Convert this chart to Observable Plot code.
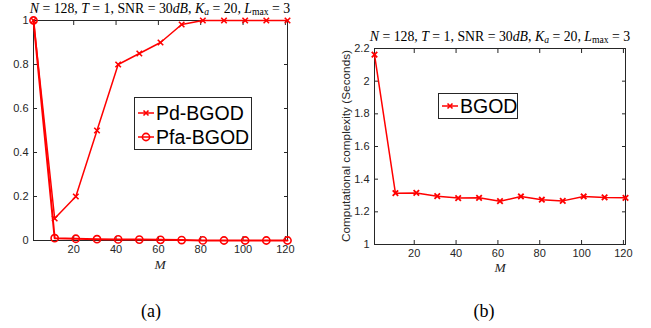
<!DOCTYPE html>
<html>
<head>
<meta charset="utf-8">
<script src="https://cdn.jsdelivr.net/npm/d3@7"></script>
<script src="https://cdn.jsdelivr.net/npm/@observablehq/plot@0.6"></script>
<style>
  html, body { margin: 0; padding: 0; background: #fff; }
  #wrap { position: relative; width: 651px; height: 328px; overflow: hidden; background: #fff; }
  .panel { position: absolute; top: 0; }
  .ttl { position: absolute; white-space: nowrap; transform: translateX(-50%); font-family: "Liberation Serif", "DejaVu Serif", serif; font-size: 13.8px; color: #000; line-height: 1; }
  .ttl sub { font-size: 70%; vertical-align: -0.25em; }
  .xl { position: absolute; transform: translateX(-50%); font-family: "Liberation Serif", serif; font-style: italic; font-size: 13.5px; color: #262626; line-height: 1; }
  .cap { position: absolute; transform: translateX(-50%); font-family: "Liberation Serif", serif; font-size: 18px; color: #000; line-height: 1; }
  .yl { position: absolute; white-space: nowrap; font-family: "Liberation Sans", Arial, sans-serif; font-size: 11.8px; color: #262626; transform: translate(-50%, -50%) rotate(-90deg); line-height: 1; }
  .leg { position: absolute; background: #fff; border: 1px solid #262626; box-sizing: border-box; font-family: "Liberation Sans", Arial, sans-serif; font-size: 19.5px; color: #000; }
  .leg .row { position: absolute; left: 0; display: flex; align-items: center; height: 22px; }
  .leg svg { display: block; }
</style>
</head>
<body>
<div id="wrap"></div>
<script>
// ---- data ----
const M = [1, 11, 21, 31, 41, 51, 61, 71, 81, 91, 101, 111, 121];
const pd = [1, 0.1, 0.2, 0.5, 0.8, 0.85, 0.9, 0.982, 1, 1, 1, 1, 1];
const pfa = [1, 0.0105, 0.008, 0.006, 0.005, 0.004, 0.003, 0.002, 0.0005, 0, 0, 0, 0];
const runtime = [2.162, 1.314, 1.316, 1.296, 1.284, 1.286, 1.265, 1.294, 1.274, 1.267, 1.294, 1.288, 1.286];
const xTicks = [20, 40, 60, 80, 100, 120];
const yTicksA = [0, 0.2, 0.4, 0.6, 0.8, 1];
const yTicksB = [1, 1.2, 1.4, 1.6, 1.8, 2, 2.2];
const seriesNames = ["Pd-BGOD", "Pfa-BGOD"];
const seriesB = "BGOD";

const RED = "#ff0000";
const INK = "#262626";
const fmt = d => String(+d.toFixed(1));

const rowsPd = M.map((m, i) => ({M: m, v: pd[i]}));
const rowsPfa = M.map((m, i) => ({M: m, v: pfa[i]}));
const rowsT = M.map((m, i) => ({M: m, v: runtime[i]}));

function boxAxes(yt) {
  return [
    Plot.axisX({anchor: "bottom", ticks: xTicks, tickSize: -4, tickPadding: 9, label: null, stroke: INK, color: INK}),
    Plot.axisX({anchor: "top", ticks: xTicks, tickSize: -4, tickFormat: () => "", label: null, stroke: INK}),
    Plot.axisY({anchor: "left", ticks: yt, tickSize: -4, tickPadding: 9, tickFormat: fmt, label: null, stroke: INK, color: INK}),
    Plot.axisY({anchor: "right", ticks: yt, tickSize: -4, tickFormat: () => "", label: null, stroke: INK}),
    Plot.frame({stroke: INK, strokeWidth: 1})
  ];
}

const style = {fontFamily: "'Liberation Sans', Arial, sans-serif", fontSize: "11px", color: INK, background: "transparent", overflow: "visible"};

const left = Plot.plot({
  width: 320, height: 280,
  marginLeft: 33, marginRight: 33, marginTop: 20, marginBottom: 40,
  style,
  x: {domain: [1, 121]},
  y: {domain: [0, 1]},
  marks: [
    ...boxAxes(yTicksA),
    Plot.line(rowsPfa, {x: "M", y: "v", stroke: RED, strokeWidth: 2}),
    Plot.line(rowsPd, {x: "M", y: "v", stroke: RED, strokeWidth: 1.5}),
    Plot.dot(rowsPfa, {x: "M", y: "v", r: 3.6, stroke: RED, strokeWidth: 1.6, fill: "none"}),
    Plot.dot(rowsPd, {x: "M", y: "v", symbol: "times", r: 2.6, stroke: RED, strokeWidth: 1.6})
  ]
});

const right = Plot.plot({
  width: 331, height: 280,
  marginLeft: 54, marginRight: 26, marginTop: 48, marginBottom: 36,
  style,
  x: {domain: [1, 121]},
  y: {domain: [1, 2.2]},
  marks: [
    ...boxAxes(yTicksB),
    Plot.line(rowsT, {x: "M", y: "v", stroke: RED, strokeWidth: 1.5}),
    Plot.dot(rowsT, {x: "M", y: "v", symbol: "times", r: 2.6, stroke: RED, strokeWidth: 1.8})
  ]
});

const wrap = document.getElementById("wrap");
const pl = document.createElement("div"); pl.className = "panel"; pl.style.left = "0px"; pl.appendChild(left); wrap.appendChild(pl);
const pr = document.createElement("div"); pr.className = "panel"; pr.style.left = "320px"; pr.appendChild(right); wrap.appendChild(pr);

function add(cls, html, x, y) {
  const d = document.createElement("div"); d.className = cls; d.innerHTML = html;
  d.style.left = x + "px"; d.style.top = y + "px"; wrap.appendChild(d); return d;
}
const titleHTML = '<i>N</i> = 128, <i>T</i> = 1, SNR = 30<i>dB</i>, <i>K<sub>a</sub></i> = 20, <i>L</i><sub>max</sub> = 3';
add("ttl", titleHTML, 160, 2);
add("ttl", titleHTML, 500, 30);
add("xl", "M", 160, 258);
add("xl", "M", 500, 261);
add("cap", "(a)", 151, 302);
add("cap", "(b)", 484, 302);
add("yl", "Computational complexity (Seconds)", 347, 146);

function legend(x, y, w, h, rows) {
  const L = document.createElement("div"); L.className = "leg";
  Object.assign(L.style, {left: x + "px", top: y + "px", width: w + "px", height: h + "px"});
  rows.forEach(([name, marker, top]) => {
    const r = document.createElement("div"); r.className = "row"; r.style.top = top + "px";
    const mk = marker === "circle"
      ? '<circle cx="9" cy="11" r="3.6" fill="none" stroke="' + RED + '" stroke-width="1.6"/>'
      : '<path d="M6.5,8.5L11.5,13.5M6.5,13.5L11.5,8.5" stroke="' + RED + '" stroke-width="1.6"/>';
    r.innerHTML = '<svg width="19" height="22" style="margin-left:2px"><line x1="1" x2="17" y1="11" y2="11" stroke="' + RED + '" stroke-width="1.5"/>' + mk + '</svg><span style="margin-left:0px">' + name + '</span>';
    L.appendChild(r);
  });
  wrap.appendChild(L);
}
legend(134, 97, 118, 53, [[seriesNames[0], "times", 4], [seriesNames[1], "circle", 28]]);
legend(438, 93, 80, 26, [[seriesB, "times", 1]]);
</script>
</body>
</html>
